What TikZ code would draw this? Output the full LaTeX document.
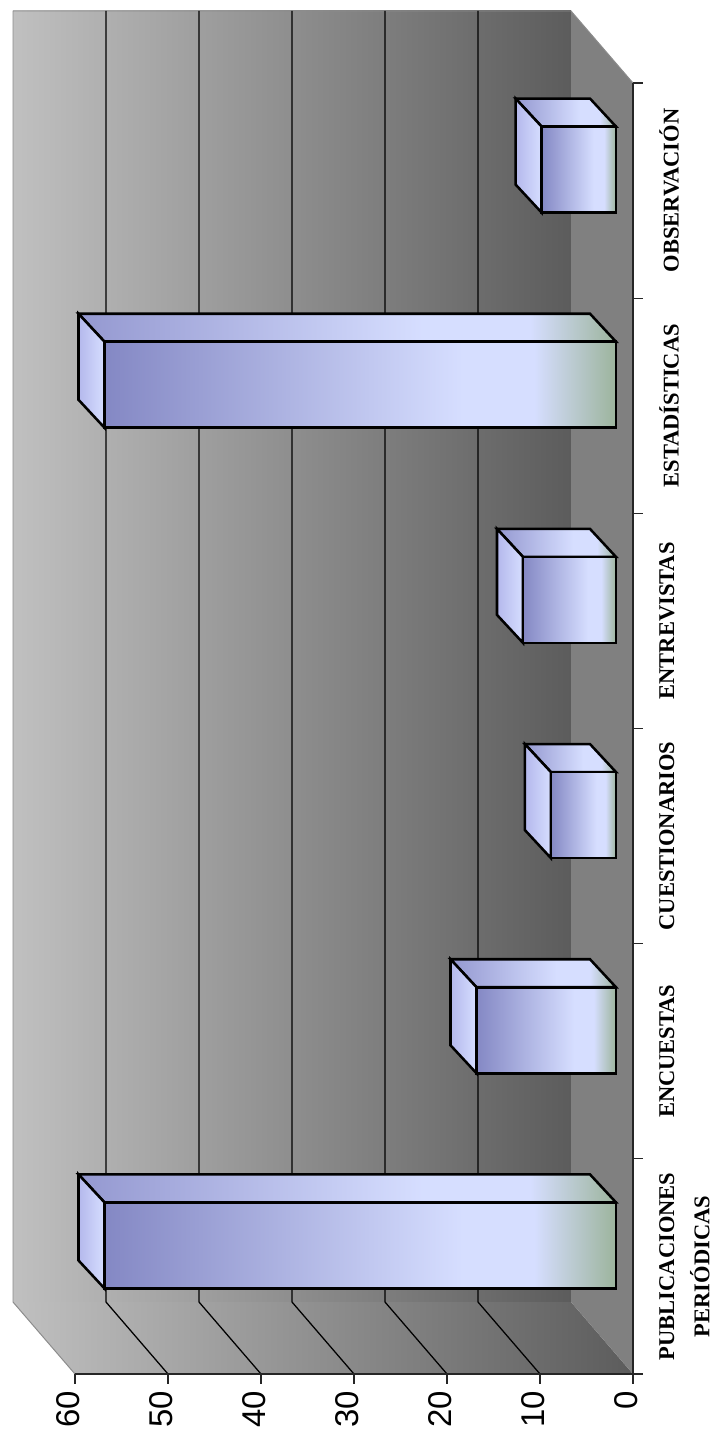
\documentclass[tikz,border=0pt]{standalone}
\usepackage{fontspec}
\setmainfont{Liberation Serif}
\newfontfamily\arialfont{Liberation Sans}
\usepackage{xcolor}
\usepackage{tikz}
\usetikzlibrary{calc}

\definecolor{barDark}{HTML}{8488C4}
\definecolor{barTopDark}{HTML}{9498D0}
\definecolor{barLight}{HTML}{D6DEFF}
\definecolor{barBase}{HTML}{9CB49C}
\definecolor{capDark}{HTML}{B4B8EC}
\definecolor{wallLight}{HTML}{C0C0C0}
\definecolor{wallDark}{HTML}{5C5C5C}
\definecolor{floorGray}{HTML}{808080}
\definecolor{edgeGray}{HTML}{8C8C8C}

\pgfdeclarehorizontalshading{barfront}{100bp}{color(0bp)=(barDark); color(25bp)=(barDark);
  color(60bp)=(barLight); color(67bp)=(barLight); color(75bp)=(barBase); color(100bp)=(barBase)}
\pgfdeclarehorizontalshading{bartop}{100bp}{color(0bp)=(barTopDark); color(25bp)=(barTopDark);
  color(57bp)=(barLight); color(67bp)=(barLight); color(75bp)=(barBase); color(100bp)=(barBase)}

\begin{document}
\begin{tikzpicture}[
                    x = 0.025cm, % one pixel of the chart
                    y = -0.025cm,
                    grid line/.style = {black, line width=0.9pt},
                    panel edge/.style = {draw=edgeGray, line width=0.7pt},
                    axis line/.style = {black!85, line width=0.9pt},
                    value label/.style = {font=\arialfont\fontsize{23.4}{28}\selectfont,
                                          rotate=90, anchor=east, inner sep=0pt},
                    cat label/.style = {font=\bfseries\fontsize{16}{25}\selectfont,
                                        rotate=90, anchor=north, align=center, inner sep=0pt}
            ]

            \tikzstyle{bar face}=[
                draw = black,
                line width = 1.8pt,
                line join = miter
            ]

            \useasboundingbox (0,0) rectangle (714,1433);

            % walls and floor
            \shade[left color=wallLight, right color=wallDark] (13,11) rectangle (571,1302);
            \shade[left color=wallLight, right color=wallDark]
                (13,1302) -- (571,1302) -- (633,1374) -- (75,1374) -- cycle;
            \fill[floorGray] (571,11) -- (633,83) -- (633,1374) -- (571,1302) -- cycle;
            \draw[panel edge] (75,1374) -- (13,1302) -- (13,11) -- (571,11) -- (633,83);

            \foreach \v in {10,20,...,50} {
                \draw[grid line] ({571-9.3*\v},11) -- ({571-9.3*\v},1302) -- ({633-9.3*\v},1374);
            }

            % axes
            \coordinate (origin) at (633,1374);
            \coordinate (cattop) at (633,83);
            \coordinate (valend) at (75,1374);
            \draw[axis line] (cattop) -- (origin) -- (valend);

            \foreach \k in {0,...,6} {
                \draw[axis line] (633,{83+215.17*\k}) -- (643,{83+215.17*\k});
            }
            \foreach \v in {0,10,...,60} {
                \draw[axis line] ({633-9.3*\v},1374) -- ({633-9.3*\v},1384);
                \node[value label] (val\v) at ({626-9.3*\v},1391) {\v};
            }

            % bars
            \foreach \i/\v in {0/55, 1/15, 2/7, 3/10, 4/55, 5/8} {
                \pgfmathsetmacro\xl{616-9.3*\v}
                \pgfmathsetmacro\yt{1374-215.17*(\i+0.5)-64}
                \pgfmathsetmacro\yb{\yt+86}
                \shadedraw[bar face, shading=bartop]
                    (\xl,\yt) -- (616,\yt) -- (590,{\yt-28}) -- ({\xl-26},{\yt-28}) -- cycle;
                \shadedraw[bar face, left color=capDark, right color=barLight]
                    (\xl,\yt) -- (\xl,\yb) -- ({\xl-26},{\yb-28}) -- ({\xl-26},{\yt-28}) -- cycle;
                \shadedraw[bar face, shading=barfront] (\xl,\yt) rectangle (616,\yb);
            }

            % category labels
            \foreach \i/\name/\txt in {0/publ/{PUBLICACIONES\\PERIÓDICAS}, 1/encu/ENCUESTAS,
                                      2/cues/CUESTIONARIOS, 3/entr/ENTREVISTAS,
                                      4/esta/ESTADÍSTICAS, 5/obse/OBSERVACIÓN} {
                \node[cat label] (cat\name) at (659,{1374-215.17*(\i+0.5)}) {\txt};
            }
        \end{tikzpicture}
\end{document}
